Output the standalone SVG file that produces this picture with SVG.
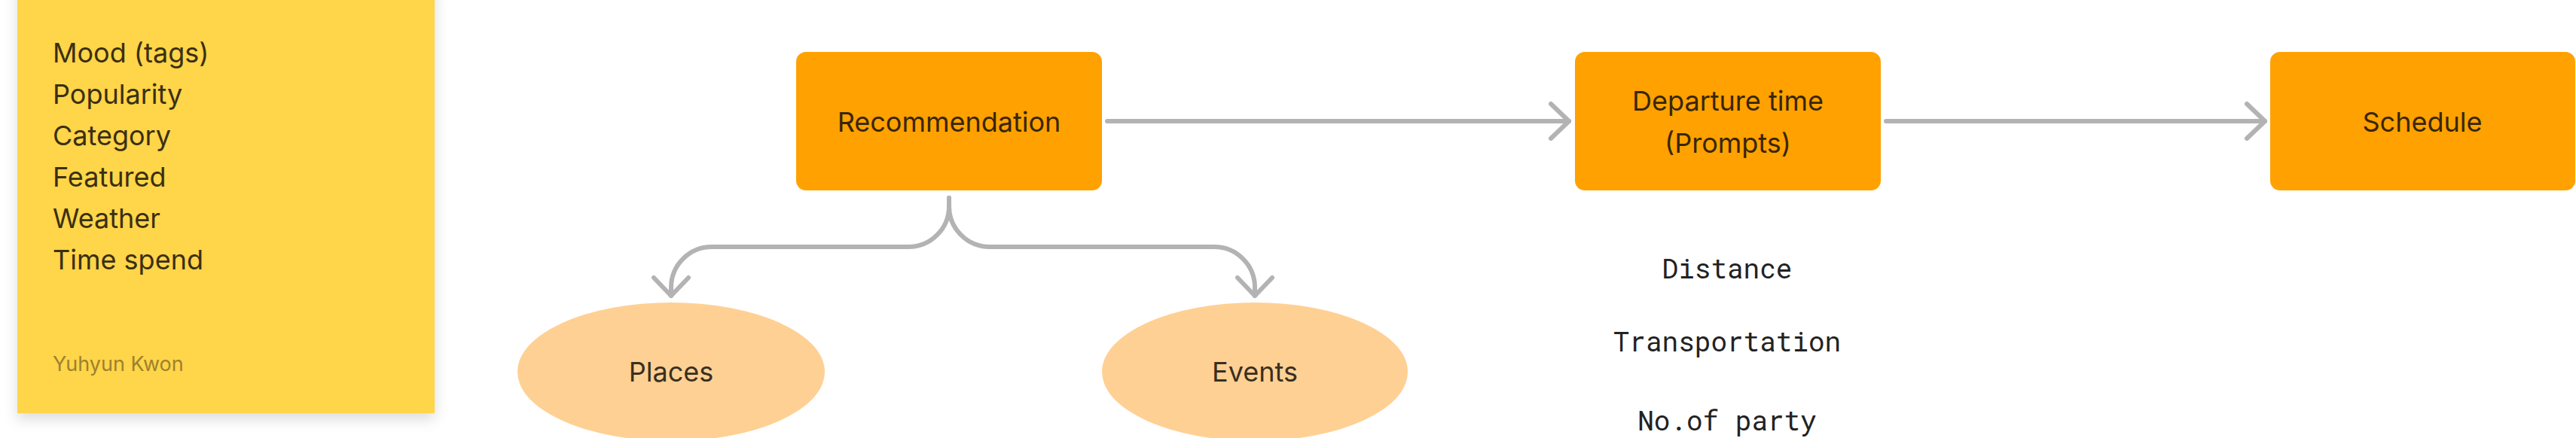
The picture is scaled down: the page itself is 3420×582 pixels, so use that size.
<svg xmlns="http://www.w3.org/2000/svg" width="3420" height="582" viewBox="0 0 3420 582">
<style>
.note-text{font-family:"Inter","Liberation Sans",sans-serif;font-size:36px;fill:#3A2F12}
.author{font-family:"Inter","Liberation Sans",sans-serif;font-size:27px;fill:#9E812E}
.box{fill:#FFA100}
.box-text{font-family:"Inter","Liberation Sans",sans-serif;font-size:36px;fill:#382608;text-anchor:middle}
.oval{fill:#FFD093}
.oval-text{font-family:"Inter","Liberation Sans",sans-serif;font-size:36px;fill:#3A2F20;text-anchor:middle}
.mono{font-family:"Roboto Mono","DejaVu Sans Mono","Liberation Mono",monospace;font-size:36px;fill:#222222;text-anchor:middle}
.conn{fill:none;stroke:#B3B3B3;stroke-width:6;stroke-linecap:round;stroke-linejoin:round}
</style>
<defs>
<filter id="shadow" x="-10%" y="-10%" width="120%" height="125%">
<feDropShadow dx="0" dy="8" stdDeviation="9" flood-color="#000000" flood-opacity="0.14"/>
</filter>
<marker id="arr" markerUnits="userSpaceOnUse" markerWidth="60" markerHeight="60" viewBox="-30 -30 60 60" refX="0" refY="0" orient="auto" overflow="visible">
<path d="M-24,-23 L0,0 L-24,23" fill="none" stroke="#B3B3B3" stroke-width="6" stroke-linecap="round" stroke-linejoin="round"/>
</marker>
</defs>
<rect width="3420" height="582" fill="#FFFFFF"/>

<g id="sticky-note">
<rect x="23" y="-20" width="554" height="569" fill="#FFD54A" filter="url(#shadow)"/>
<text class="note-text" x="70" y="83">Mood (tags)</text>
<text class="note-text" x="70" y="138">Popularity</text>
<text class="note-text" x="70" y="193">Category</text>
<text class="note-text" x="70" y="248">Featured</text>
<text class="note-text" x="70" y="303">Weather</text>
<text class="note-text" x="70" y="358">Time spend</text>
<text class="author" x="70" y="493">Yuhyun Kwon</text>
</g>

<g id="connectors">
<path class="conn" d="M1470 161 H2083" marker-end="url(#arr)"/>
<path class="conn" d="M2504 161 H3007" marker-end="url(#arr)"/>
<path class="conn" d="M1260 263 V274 A54 54 0 0 1 1206 328 H945 A54 54 0 0 0 891 382 V393" marker-end="url(#arr)"/>
<path class="conn" d="M1260 263 V274 A54 54 0 0 0 1314 328 H1612 A54 54 0 0 1 1666 382 V393" marker-end="url(#arr)"/>
</g>

<g id="recommendation">
<rect class="box" x="1057" y="69" width="406" height="184" rx="13"/>
<text class="box-text" x="1260" y="175">Recommendation</text>
</g>

<g id="departure-time">
<rect class="box" x="2091" y="69" width="406" height="184" rx="13"/>
<text class="box-text" x="2294" y="147">Departure time</text>
<text class="box-text" x="2294" y="203">(Prompts)</text>
</g>

<g id="schedule">
<rect class="box" x="3014" y="69" width="405" height="184" rx="13"/>
<text class="box-text" x="3216" y="175">Schedule</text>
</g>

<g id="places">
<ellipse class="oval" cx="891" cy="494" rx="204" ry="92"/>
<text class="oval-text" x="891" y="507">Places</text>
</g>

<g id="events">
<ellipse class="oval" cx="1666" cy="494" rx="203" ry="92"/>
<text class="oval-text" x="1666" y="507">Events</text>
</g>

<g id="factors">
<text class="mono" x="2293" y="370">Distance</text>
<text class="mono" x="2293" y="467">Transportation</text>
<text class="mono" x="2293" y="572">No.of party</text>
</g>
</svg>
